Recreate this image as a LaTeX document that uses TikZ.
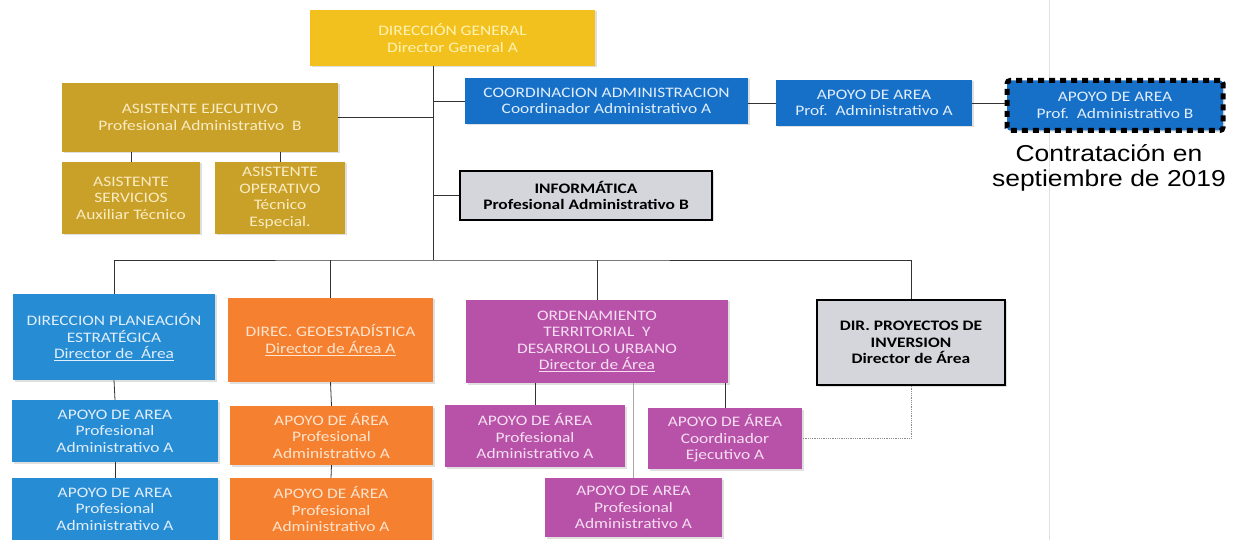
\documentclass[tikz,border=0pt]{standalone}
\usepackage{fontspec}
\setmainfont[FakeStretch=1.2]{Carlito}
\newfontfamily\notefont[FakeStretch=1.15]{Liberation Sans}
\usetikzlibrary{shadows}
\definecolor{dirgold}{RGB}{243,193,30}
\definecolor{dirtext}{RGB}{255,242,180}
\definecolor{asisgold}{RGB}{201,160,40}
\definecolor{asistext}{RGB}{250,236,195}
\definecolor{coordblue}{RGB}{22,112,200}
\definecolor{planblue}{RGB}{38,140,212}
\definecolor{bluetext}{RGB}{225,238,252}
\definecolor{geoorange}{RGB}{245,128,48}
\definecolor{orangetext}{RGB}{255,228,205}
\definecolor{ordmagenta}{RGB}{184,82,168}
\definecolor{magentatext}{RGB}{246,222,242}
\definecolor{boxgray}{RGB}{212,214,220}

\begin{document}
\begin{tikzpicture}[x=1pt, y=-1pt,
	box/.style={align=center, inner sep=0, font=\fontsize{14.5}{16.5}\selectfont,
		drop shadow={shadow xshift=1.5pt, shadow yshift=-1.5pt, opacity=0.25}},
	yellowbox/.style={box, fill=dirgold, text=dirtext},
	goldbox/.style={box, fill=asisgold, text=asistext},
	bluebox/.style={box, fill=coordblue, text=bluetext},
	lightbluebox/.style={box, fill=planblue, text=bluetext},
	orangebox/.style={box, fill=geoorange, text=orangetext},
	magentabox/.style={box, fill=ordmagenta, text=magentatext},
	graybox/.style={box, fill=boxgray, draw=black, line width=1.5, font=\fontsize{14.5}{16.5}\selectfont\bfseries},
	link/.style={draw=black!80, line width=0.8}]
		\useasboundingbox (0, 0) rectangle (1235, 540);
		\draw[black!12, line width=1] (1049, 0) to (1049, 540);

		\node[yellowbox, minimum width=285, minimum height=56] (dirgen) at (452.5, 38) {DIRECCIÓN GENERAL\\Director General A};
		\node[goldbox, minimum width=276, minimum height=69] (asisejec) at (200, 117.5) {ASISTENTE EJECUTIVO\\Profesional Administrativo~~B};
		\node[goldbox, minimum width=138, minimum height=72] (asisserv) at (131, 198) {ASISTENTE\\SERVICIOS\\Auxiliar Técnico};
		\node[goldbox, minimum width=130, minimum height=72] (asisoper) at (280, 198) {ASISTENTE\\OPERATIVO\\Técnico\\Especial.};
		\node[bluebox, minimum width=283, minimum height=46] (coordadm) at (606.5, 101) {COORDINACION ADMINISTRACION\\Coordinador Administrativo A};
		\node[bluebox, minimum width=196, minimum height=46] (apoyoa) at (874, 103) {APOYO DE AREA\\Prof.~~Administrativo A};
		\node[bluebox, minimum width=216, minimum height=50, draw=black, line width=5, dash pattern=on 6pt off 5pt, rounded corners=3] (apoyob) at (1115, 105.5) {APOYO DE AREA\\Prof.~~Administrativo B};
		\node[align=center, font=\notefont\fontsize{23}{25}\selectfont] (nota) at (1109, 168) {Contratación en\\septiembre de 2019};
		\node[graybox, minimum width=252, minimum height=49] (informatica) at (586, 195.5) {INFORMÁTICA\\Profesional Administrativo B};

		\node[lightbluebox, minimum width=202, minimum height=86] (planea) at (114, 337) {DIRECCION PLANEACIÓN\\ESTRATÉGICA\\\underline{Director de~~Área}};
		\node[lightbluebox, minimum width=206, minimum height=62] (planeaapoyo1) at (115, 431) {APOYO DE AREA\\Profesional\\Administrativo A};
		\node[lightbluebox, minimum width=206, minimum height=62] (planeaapoyo2) at (115, 509) {APOYO DE AREA\\Profesional\\Administrativo A};
		\node[orangebox, minimum width=205, minimum height=84] (geo) at (330.5, 340) {DIREC. GEOESTADÍSTICA\\\underline{Director de Área A}};
		\node[orangebox, minimum width=203, minimum height=59] (geoapoyo1) at (331.5, 435.5) {APOYO DE ÁREA\\Profesional\\Administrativo A};
		\node[orangebox, minimum width=202, minimum height=62] (geoapoyo2) at (331, 509) {APOYO DE ÁREA\\Profesional\\Administrativo A};
		\node[magentabox, minimum width=262, minimum height=83] (orden) at (597, 341.5) {ORDENAMIENTO\\TERRITORIAL~~Y\\DESARROLLO URBANO\\\underline{Director de Área}};
		\node[magentabox, minimum width=180, minimum height=62] (ordenapoyol) at (535, 436) {APOYO DE ÁREA\\Profesional\\Administrativo A};
		\node[magentabox, minimum width=154, minimum height=61] (ordenapoyor) at (725, 438.5) {APOYO DE ÁREA\\Coordinador\\Ejecutivo A};
		\node[magentabox, minimum width=177, minimum height=59] (ordenapoyob) at (633.5, 507.5) {APOYO DE AREA\\Profesional\\Administrativo A};
		\node[graybox, minimum width=188, minimum height=85] (dirproy) at (911, 342.5) {DIR. PROYECTOS DE\\INVERSION\\Director de Área};

		\coordinate (bus) at (433, 260);
		\draw[link] (dirgen.south -| bus) to (bus);
		\draw[link] (asisejec.east) to (asisejec.east -| bus);
		\draw[link] (coordadm.west) to (coordadm.west -| bus);
		\draw[link] (informatica.west) to (informatica.west -| bus);
		\draw[link] ([yshift=-2]coordadm.east) to ([yshift=-2]coordadm.east -| apoyoa.west);
		\draw[link] ([yshift=-2]coordadm.east -| apoyoa.east) to ([yshift=-2]coordadm.east -| apoyob.west);
		\draw[link] (asisserv.north) to (asisserv.north |- asisejec.south);
		\draw[link] (asisoper.north) to (asisoper.north |- asisejec.south);
		\draw[link] (planea.north) |- (bus) -| (dirproy.north);
		\draw[link] (geo.north) to (geo.north |- bus);
		\draw[link] (orden.north) to (orden.north |- bus);
		\draw[link] (planea.south) to (planeaapoyo1.north);
		\draw[link] (planeaapoyo1.south) to (planeaapoyo2.north);
		\draw[link] (geo.south) to (geoapoyo1.north);
		\draw[link] (geoapoyo1.south) to (geoapoyo2.north);
		\draw[link] (ordenapoyol.north) to (ordenapoyol.north |- orden.south);
		\draw[link] (ordenapoyor.north) to (ordenapoyor.north |- orden.south);
		\draw[link, black!35] (ordenapoyob.north) to (ordenapoyob.north |- orden.south);
		\draw[link, black!45, densely dotted] (dirproy.south) |- (ordenapoyor.east);
	\end{tikzpicture}
\end{document}
